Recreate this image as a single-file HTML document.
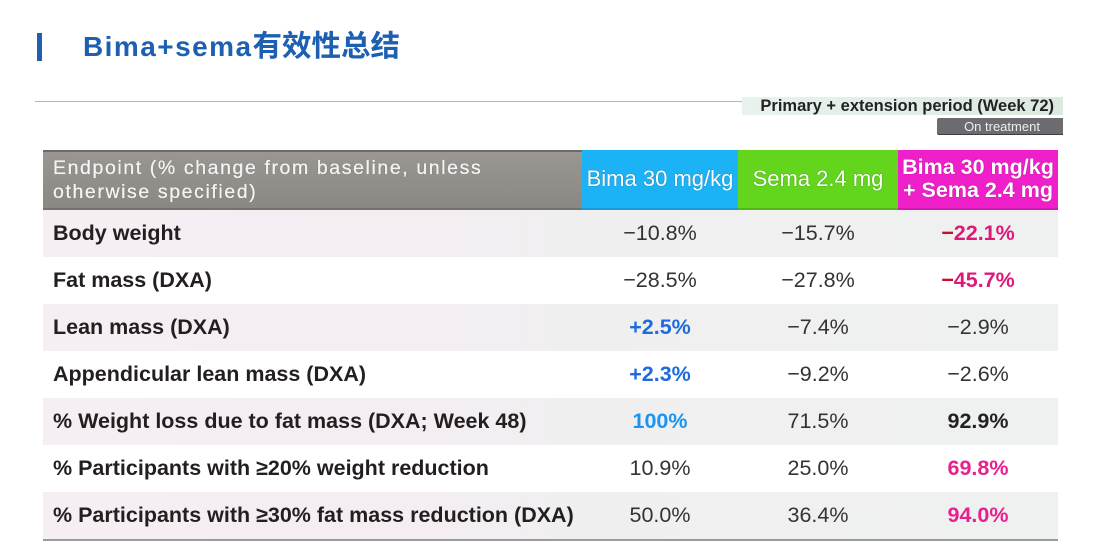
<!DOCTYPE html>
<html>
<head>
<meta charset="utf-8">
<style>
  html,body{margin:0;padding:0;}
  body{width:1119px;height:555px;position:relative;background:#ffffff;overflow:hidden;font-family:"Liberation Sans","Noto Sans CJK SC",sans-serif;}
  .abs{position:absolute;}
  .bar{left:37px;top:33px;width:5px;height:28px;background:#1d5fb0;}
  .title{left:83px;top:27px;height:40px;line-height:40px;font-size:28px;font-weight:bold;color:#1d5fb0;white-space:nowrap;font-family:"Liberation Sans","Noto Sans CJK SC",sans-serif;}
  .title .lat{letter-spacing:1.45px;}
  .title .cjk{font-size:29.5px;}
  .hline{left:35px;top:101px;width:707px;height:1px;background:#b4b4b4;}
  .period{left:742px;top:97px;width:321px;height:18px;background:linear-gradient(to right,#e9f2ed,#dbe9e1);font-size:16.5px;font-weight:bold;color:#222;line-height:18px;text-align:right;box-sizing:border-box;padding-right:9px;white-space:nowrap;}
  .ontreat{left:937px;top:118px;width:126px;height:17px;background:#6c6b70;border-radius:2px 0 0 2px;color:#eeeeee;font-size:13px;line-height:17px;text-align:center;box-sizing:border-box;padding-left:4px;border-bottom:1px solid #3e3e42;}
  .hdr{top:150px;height:60px;box-sizing:border-box;}
  .hgray{left:43px;width:539px;background:linear-gradient(to bottom,#9a9691,#8b8783);border-top:2px solid #6e6a66;border-bottom:2px solid #75716d;}
  .hgray .t{position:absolute;left:10px;top:4px;font-size:19.5px;letter-spacing:1.6px;line-height:24px;color:#f4f4f4;white-space:nowrap;-webkit-text-stroke:0.35px #f4f4f4;text-shadow:0 0 1px rgba(0,0,0,0.55);}
  .hcol{display:flex;align-items:center;justify-content:center;text-align:center;color:#fff;white-space:nowrap;text-shadow:0 0 1px rgba(0,0,0,0.5);}
  .hblue{left:582px;width:156px;background:#1cb3f6;font-size:22px;border-bottom:2px solid #1a9ad8;}
  .hgreen{left:738px;width:160px;background:#62d51c;font-size:22px;border-bottom:2px solid #52b818;}
  .hmag{left:898px;width:160px;background:#ef1fc9;font-size:21.5px;font-weight:bold;line-height:23px;border-bottom:2px solid #d21ab0;}
  .row{left:43px;width:1015px;height:47px;}
  .shade{background:linear-gradient(to right,#f5eff4 0%,#f4eef3 38%,#f0eff0 52%,#eff1f0 100%);}
  .lab{position:absolute;left:10px;top:0;height:47px;line-height:47px;font-size:21.5px;font-weight:bold;color:#231f20;white-space:nowrap;}
  .v{position:absolute;top:0;height:47px;line-height:47px;font-size:21.5px;color:#333;text-align:center;white-space:nowrap;}
  .c1{left:539px;width:156px;}
  .c2{left:695px;width:160px;}
  .c3{left:855px;width:160px;}
  .b{font-weight:bold;}
  .blue{color:#1e6ae0;font-weight:bold;}
  .lblue{color:#1b95f0;font-weight:bold;}
  .mag{color:#de1a78;font-weight:bold;}
  .red{color:#c8102e;}
  .pink{color:#e8208f;font-weight:bold;}
  .bottom{left:43px;top:539px;width:1015px;height:2px;background:#9c9c9c;}
</style>
</head>
<body>
  <div class="abs bar"></div>
  <div class="abs title"><span class="lat">Bima+sema</span><span class="cjk">有效性总结</span></div>
  <div class="abs hline"></div>
  <div class="abs period">Primary + extension period (Week 72)</div>
  <div class="abs ontreat">On treatment</div>

  <div class="abs hdr hgray"><div class="t">Endpoint (% change from baseline, unless<br>otherwise specified)</div></div>
  <div class="abs hdr hcol hblue">Bima 30 mg/kg</div>
  <div class="abs hdr hcol hgreen">Sema 2.4 mg</div>
  <div class="abs hdr hcol hmag">Bima 30 mg/kg<br>+ Sema 2.4 mg</div>

  <div class="abs row shade" style="top:210px;">
    <div class="lab">Body weight</div>
    <div class="v c1">−10.8%</div>
    <div class="v c2">−15.7%</div>
    <div class="v c3 mag"><span class="red">−</span>22.1%</div>
  </div>
  <div class="abs row" style="top:257px;">
    <div class="lab">Fat mass (DXA)</div>
    <div class="v c1">−28.5%</div>
    <div class="v c2">−27.8%</div>
    <div class="v c3 mag"><span class="red">−</span>45.7%</div>
  </div>
  <div class="abs row shade" style="top:304px;">
    <div class="lab">Lean mass (DXA)</div>
    <div class="v c1 blue">+2.5%</div>
    <div class="v c2">−7.4%</div>
    <div class="v c3">−2.9%</div>
  </div>
  <div class="abs row" style="top:351px;">
    <div class="lab">Appendicular lean mass (DXA)</div>
    <div class="v c1 blue">+2.3%</div>
    <div class="v c2">−9.2%</div>
    <div class="v c3">−2.6%</div>
  </div>
  <div class="abs row shade" style="top:398px;">
    <div class="lab">% Weight loss due to fat mass (DXA; Week 48)</div>
    <div class="v c1 lblue">100%</div>
    <div class="v c2">71.5%</div>
    <div class="v c3 b" style="color:#222;">92.9%</div>
  </div>
  <div class="abs row" style="top:445px;">
    <div class="lab">% Participants with ≥20% weight reduction</div>
    <div class="v c1">10.9%</div>
    <div class="v c2">25.0%</div>
    <div class="v c3 pink">69.8%</div>
  </div>
  <div class="abs row shade" style="top:492px;">
    <div class="lab">% Participants with ≥30% fat mass reduction (DXA)</div>
    <div class="v c1">50.0%</div>
    <div class="v c2">36.4%</div>
    <div class="v c3 pink">94.0%</div>
  </div>
  <div class="abs bottom"></div>
</body>
</html>
